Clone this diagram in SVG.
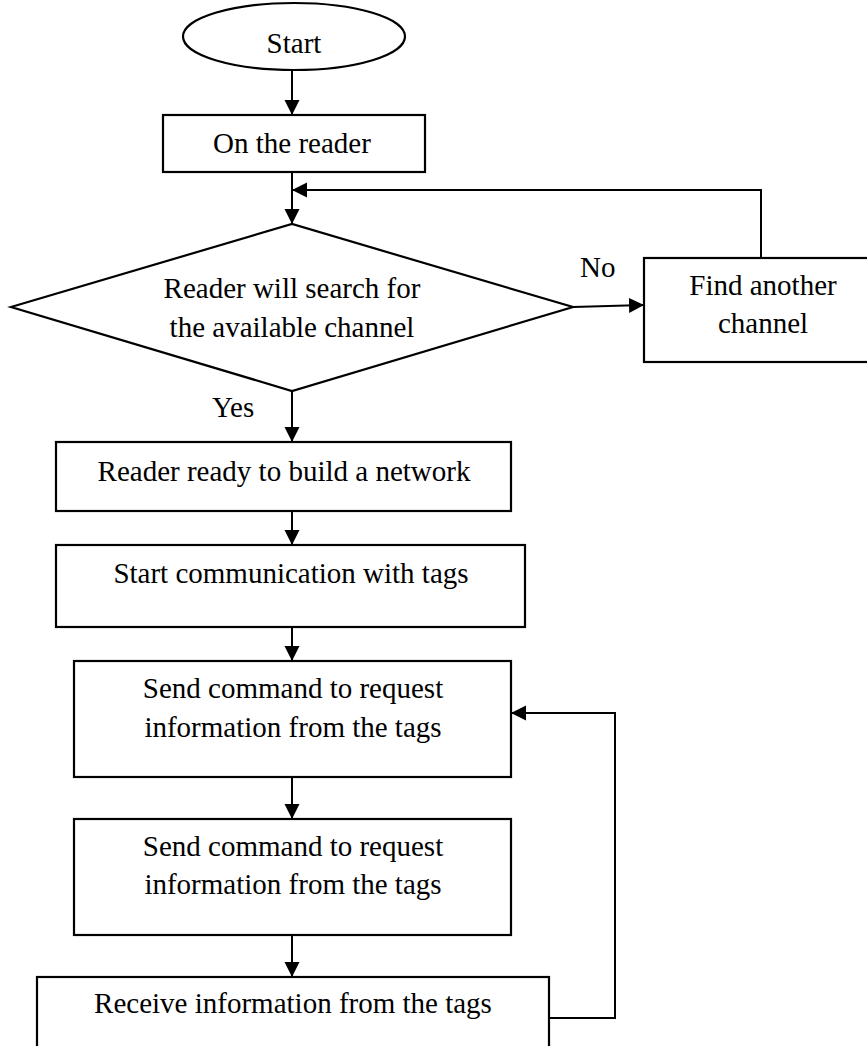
<svg xmlns="http://www.w3.org/2000/svg" width="867" height="1046" viewBox="0 0 867 1046">
  <style>
    .shape { fill: #ffffff; stroke: #000000; stroke-width: 2.2; }
    .conn { fill: none; stroke: #000000; stroke-width: 2; }
    .label { font-family: "Liberation Serif", "Times New Roman", serif; font-size: 29px; fill: #000000; text-anchor: middle; }
    .edge-label { font-family: "Liberation Serif", "Times New Roman", serif; font-size: 29px; fill: #000000; }
  </style>
  <defs>
    <marker id="arrow" markerUnits="userSpaceOnUse" markerWidth="16" markerHeight="16" viewBox="0 0 16 16" refX="15" refY="8" orient="auto">
      <path d="M0,0.5 L15,8 L0,15.5 Z" fill="#000000"/>
    </marker>
  </defs>
  <rect width="867" height="1046" fill="#ffffff"/>

  <g id="start">
    <ellipse class="shape" cx="294" cy="36.5" rx="111" ry="33.5"/>
    <text class="label" x="294" y="53">Start</text>
  </g>
  <g id="on-reader">
    <rect class="shape" x="163" y="115" width="262" height="57"/>
    <text class="label" x="292" y="153">On the reader</text>
  </g>
  <g id="decision">
    <polygon class="shape" points="11,307 292,224 573,307 292,391"/>
    <text class="label" x="292" y="298">Reader will search for</text>
    <text class="label" x="292" y="337">the available channel</text>
  </g>
  <g id="find-channel">
    <rect class="shape" x="644" y="258" width="240" height="104"/>
    <text class="label" x="763" y="295">Find another</text>
    <text class="label" x="763" y="333">channel</text>
  </g>
  <g id="ready">
    <rect class="shape" x="56" y="442" width="455" height="69"/>
    <text class="label" x="284" y="481">Reader ready to build a network</text>
  </g>
  <g id="start-comm">
    <rect class="shape" x="56" y="545" width="469" height="82"/>
    <text class="label" x="291" y="583">Start communication with tags</text>
  </g>
  <g id="send1">
    <rect class="shape" x="74" y="661" width="437" height="116"/>
    <text class="label" x="293" y="698">Send command to request</text>
    <text class="label" x="293" y="737">information from the tags</text>
  </g>
  <g id="send2">
    <rect class="shape" x="74" y="819" width="437" height="116"/>
    <text class="label" x="293" y="856">Send command to request</text>
    <text class="label" x="293" y="894">information from the tags</text>
  </g>
  <g id="receive">
    <rect class="shape" x="37" y="977" width="512" height="90"/>
    <text class="label" x="293" y="1013">Receive information from the tags</text>
  </g>

  <g id="connectors">
    <line class="conn" x1="292" y1="70" x2="292" y2="115" marker-end="url(#arrow)"/>
    <line class="conn" x1="292" y1="172" x2="292" y2="224" marker-end="url(#arrow)"/>
    <polyline class="conn" points="761,258 761,190 292,190" marker-end="url(#arrow)"/>
    <line class="conn" x1="573" y1="307" x2="644" y2="305" marker-end="url(#arrow)"/>
    <line class="conn" x1="292" y1="391" x2="292" y2="442" marker-end="url(#arrow)"/>
    <line class="conn" x1="292" y1="511" x2="292" y2="545" marker-end="url(#arrow)"/>
    <line class="conn" x1="292" y1="627" x2="292" y2="661" marker-end="url(#arrow)"/>
    <line class="conn" x1="292" y1="777" x2="292" y2="819" marker-end="url(#arrow)"/>
    <line class="conn" x1="292" y1="935" x2="292" y2="977" marker-end="url(#arrow)"/>
    <polyline class="conn" points="549,1018 615,1018 615,713 511,713" marker-end="url(#arrow)"/>
    <text class="edge-label" x="580" y="277">No</text>
    <text class="edge-label" x="212" y="417">Yes</text>
  </g>
</svg>
